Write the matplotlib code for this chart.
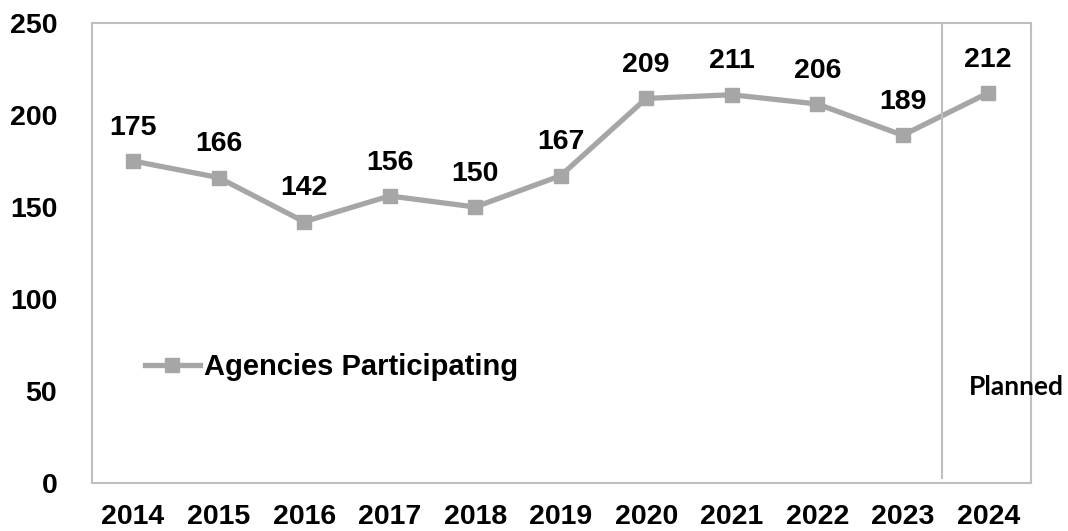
import matplotlib
matplotlib.use('Agg')
import matplotlib.pyplot as plt

# data
years = ['2014', '2015', '2016', '2017', '2018', '2019', '2020', '2021', '2022', '2023', '2024']
agencies = [175, 166, 142, 156, 150, 167, 209, 211, 206, 189, 212]
y_ticks = [0, 50, 100, 150, 200, 250]

plt.rcParams['font.family'] = ['Liberation Sans', 'DejaVu Sans']
plt.rcParams['font.weight'] = 'bold'

line_color = '#A6A6A6'
frame_color = '#BFBFBF'

fig = plt.figure(figsize=(10.68, 5.31), dpi=100)
ax = fig.add_axes([92 / 1068, 48 / 531, 939 / 1068, 460 / 531])

x = list(range(len(years)))
ax.plot(x, agencies, color=line_color, linewidth=3.8, marker='s',
        markersize=10.5, label='Agencies Participating')

# value labels above each point
for xi, v in zip(x, agencies):
    ax.annotate(str(v), (xi, v), xytext=(0, 24), textcoords='offset points',
                ha='center', va='center', fontsize=20.5, fontweight='bold')

ax.set_xlim(-0.48, len(years) - 0.5)
ax.set_ylim(0, 250)
ax.set_xticks(x)
ax.set_xticklabels(years)
ax.set_yticks(y_ticks)
ax.tick_params(axis='both', length=0, labelsize=20.5)
ax.tick_params(axis='y', pad=25)
ax.tick_params(axis='x', pad=15)
for lab in ax.get_xticklabels() + ax.get_yticklabels():
    lab.set_fontweight('bold')

for sp in ax.spines.values():
    sp.set_color(frame_color)
    sp.set_linewidth(1.5)

# divider between actual and planned
ax.axvline(9.46, ymin=0.01, ymax=1, color=frame_color, linewidth=1.5)
ax.text(9.77, 52, 'Planned', fontsize=19, fontweight='bold',
        family=['Lato', 'DejaVu Sans'], ha='left', va='center', clip_on=False)

leg = ax.legend(loc='center left', bbox_to_anchor=(0.056, 0.252), frameon=False,
                fontsize=21, handlelength=1.9, handletextpad=0.15, borderpad=0,
                borderaxespad=0)
for t in leg.get_texts():
    t.set_fontweight('bold')

fig.savefig('out.png', dpi=100)
